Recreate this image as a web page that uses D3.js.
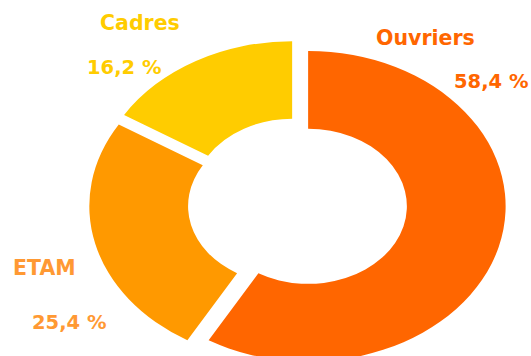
<!DOCTYPE html>
<html>
<head>
<meta charset="utf-8">
<script src="https://cdn.jsdelivr.net/npm/d3@7/dist/d3.min.js"></script>
<style>
  html, body { margin: 0; padding: 0; background: #ffffff; }
  svg { display: block; }
  text { font-family: "DejaVu Sans", Verdana, sans-serif; font-weight: bold; }
</style>
</head>
<body>
<svg id="chart" width="531" height="356"></svg>
<script>
// Workforce split by category (percent)
const categories = ["Ouvriers", "ETAM", "Cadres"];
const shares = [58.4, 25.4, 16.2];
const shareLabels = ["58,4 %", "25,4 %", "16,2 %"];

// Presentation
const sliceColors = ["#FF6600", "#FF9900", "#FFCC00"];
const labelColors = ["#FF6600", "#FF9933", "#FFCC00"];
// text anchors: [name x, name baseline, value x, value baseline]
const labelPos = [
  [376, 45, 454, 88],
  [13, 275, 32, 329],
  [100, 30, 87, 74]
];

const W = 531, H = 356;
const cx = 297.5, cy = 204;        // ring centre
const outerR = 197.5, innerR = 98.75;
const tilt = 0.786;                // vertical squash of the ring
const explode = 11;                // radial pull-out of each slice

const svg = d3.select("#chart");

const pie = d3.pie().sort(null).startAngle(0).endAngle(2 * Math.PI);
const arcs = pie(shares);
const arc = d3.arc().innerRadius(innerR).outerRadius(outerR);

const ring = svg.append("g")
  .attr("transform", `translate(${cx},${cy}) scale(1,${tilt})`);

ring.selectAll("path.slice")
  .data(arcs)
  .join("path")
  .attr("class", "slice")
  .attr("fill", (d, i) => sliceColors[i])
  .attr("transform", d => {
    const mid = (d.startAngle + d.endAngle) / 2;
    return `translate(${explode * Math.sin(mid)},${-explode * Math.cos(mid)})`;
  })
  .attr("d", arc);

const labels = svg.append("g");
categories.forEach((name, i) => {
  const p = labelPos[i];
  labels.append("text")
    .attr("x", p[0]).attr("y", p[1])
    .attr("font-size", 20.5)
    .attr("fill", labelColors[i])
    .text(name);
  labels.append("text")
    .attr("x", p[2]).attr("y", p[3])
    .attr("font-size", 19.5)
    .attr("fill", labelColors[i])
    .text(shareLabels[i]);
});
</script>
</body>
</html>
